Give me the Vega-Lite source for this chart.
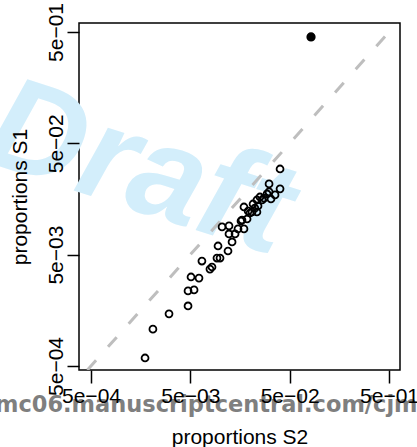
{
  "$schema": "https://vega.github.io/schema/vega-lite/v6.json",
  "width": 321,
  "height": 347,
  "autosize": "none",
  "padding": {"left": 79, "top": 23, "right": 17, "bottom": 77},
  "background": "white",
  "config": {
    "view": {"stroke": "black", "strokeWidth": 1.5},
    "font": "Liberation Sans"
  },
  "datasets": {
    "pts": [
      {"s2": 0.00175, "s1": 0.00059, "kind": "open"},
      {"s2": 0.00210, "s1": 0.00107, "kind": "open"},
      {"s2": 0.00305, "s1": 0.00147, "kind": "open"},
      {"s2": 0.00474, "s1": 0.00173, "kind": "open"},
      {"s2": 0.00474, "s1": 0.00236, "kind": "open"},
      {"s2": 0.00545, "s1": 0.00241, "kind": "open"},
      {"s2": 0.00508, "s1": 0.00315, "kind": "open"},
      {"s2": 0.00611, "s1": 0.00308, "kind": "open"},
      {"s2": 0.00654, "s1": 0.00438, "kind": "open"},
      {"s2": 0.00788, "s1": 0.00371, "kind": "open"},
      {"s2": 0.00826, "s1": 0.00387, "kind": "open"},
      {"s2": 0.00927, "s1": 0.00466, "kind": "open"},
      {"s2": 0.00995, "s1": 0.00466, "kind": "open"},
      {"s2": 0.01197, "s1": 0.00539, "kind": "open"},
      {"s2": 0.00950, "s1": 0.00598, "kind": "open"},
      {"s2": 0.01315, "s1": 0.00650, "kind": "open"},
      {"s2": 0.01043, "s1": 0.00887, "kind": "open"},
      {"s2": 0.01225, "s1": 0.00906, "kind": "open"},
      {"s2": 0.01225, "s1": 0.00767, "kind": "open"},
      {"s2": 0.01410, "s1": 0.00767, "kind": "open"},
      {"s2": 0.01510, "s1": 0.00851, "kind": "open"},
      {"s2": 0.01733, "s1": 0.00851, "kind": "open"},
      {"s2": 0.01618, "s1": 0.01002, "kind": "open"},
      {"s2": 0.01862, "s1": 0.01045, "kind": "open"},
      {"s2": 0.01656, "s1": 0.01023, "kind": "open"},
      {"s2": 0.01733, "s1": 0.01340, "kind": "open"},
      {"s2": 0.0209, "s1": 0.01208, "kind": "open"},
      {"s2": 0.0234, "s1": 0.01208, "kind": "open"},
      {"s2": 0.01995, "s1": 0.01183, "kind": "open"},
      {"s2": 0.0214, "s1": 0.01426, "kind": "open"},
      {"s2": 0.0240, "s1": 0.01368, "kind": "open"},
      {"s2": 0.0234, "s1": 0.01549, "kind": "open"},
      {"s2": 0.0264, "s1": 0.01549, "kind": "open"},
      {"s2": 0.0251, "s1": 0.01648, "kind": "open"},
      {"s2": 0.0296, "s1": 0.01754, "kind": "open"},
      {"s2": 0.0324, "s1": 0.01581, "kind": "open"},
      {"s2": 0.0310, "s1": 0.0216, "kind": "open"},
      {"s2": 0.0310, "s1": 0.0183, "kind": "open"},
      {"s2": 0.0356, "s1": 0.0172, "kind": "open"},
      {"s2": 0.0400, "s1": 0.0195, "kind": "open"},
      {"s2": 0.0400, "s1": 0.0294, "kind": "open"},
      {"s2": 0.0276, "s1": 0.0161, "kind": "open"},
      {"s2": 0.0223, "s1": 0.0131, "kind": "open"},
      {"s2": 0.0191, "s1": 0.0123, "kind": "open"},
      {"s2": 0.0820, "s1": 0.451, "kind": "filled"}
    ],
    "diag": [
      {"s2": 0.00046, "s1": 0.00046},
      {"s2": 0.602, "s1": 0.602}
    ],
    "draft": [
      {"s2": 0.0000382, "s1": 0.0354, "label": "Draft"}
    ],
    "stamp": [
      {"s2": 0.000054, "s1": 0.000193, "label": "mc06.manuscriptcentral.com/cjm"}
    ]
  },
  "encoding": {
    "x": {
      "field": "s2",
      "type": "quantitative",
      "scale": {"type": "log", "domain": [0.0003786, 0.645], "nice": false, "zero": false},
      "axis": {
        "title": "proportions S2",
        "values": [0.0005, 0.005, 0.05, 0.5],
        "labelExpr": "datum.value < 0.001 ? '5e\u221204' : datum.value < 0.01 ? '5e\u221203' : datum.value < 0.1 ? '5e\u221202' : '5e\u221201'",
        "grid": false,
        "domain": false,
        "ticks": true,
        "tickSize": 13,
        "tickColor": "black",
        "tickWidth": 1.5,
        "labelFont": "Liberation Sans",
        "labelFontSize": 21,
        "labelColor": "black",
        "labelBaseline": "alphabetic",
        "labelPadding": 19,
        "labelFlush": false,
        "labelOverlap": false,
        "titleFont": "Liberation Sans",
        "titleFontSize": 21,
        "titleFontWeight": "normal",
        "titleColor": "black",
        "titleBaseline": "alphabetic",
        "titleY": 73,
        "zindex": 1
      }
    },
    "y": {
      "field": "s1",
      "type": "quantitative",
      "scale": {"type": "log", "domain": [0.00046, 0.602], "nice": false, "zero": false},
      "axis": {
        "title": "proportions S1",
        "values": [0.0005, 0.005, 0.05, 0.5],
        "labelExpr": "datum.value < 0.001 ? '5e\u221204' : datum.value < 0.01 ? '5e\u221203' : datum.value < 0.1 ? '5e\u221202' : '5e\u221201'",
        "grid": false,
        "domain": false,
        "ticks": true,
        "tickSize": 12,
        "tickColor": "black",
        "tickWidth": 1.5,
        "labelFont": "Liberation Sans",
        "labelFontSize": 21,
        "labelColor": "black",
        "labelAngle": -90,
        "labelAlign": "center",
        "labelBaseline": "alphabetic",
        "labelPadding": 5,
        "labelFlush": false,
        "labelOverlap": false,
        "titleFont": "Liberation Sans",
        "titleFontSize": 21,
        "titleFontWeight": "normal",
        "titleColor": "black",
        "titleAngle": -90,
        "titleBaseline": "alphabetic",
        "titleX": -53,
        "titleY": 173.5,
        "zindex": 1
      }
    }
  },
  "layer": [
    {
      "data": {"name": "draft"},
      "mark": {
        "type": "text",
        "font": "Liberation Sans",
        "fontSize": 133,
        "fontWeight": "bold",
        "fontStyle": "italic",
        "angle": 18,
        "align": "left",
        "baseline": "alphabetic",
        "color": "#d3eefb",
        "clip": false
      },
      "encoding": {"text": {"field": "label"}}
    },
    {
      "data": {"name": "diag"},
      "mark": {
        "type": "line",
        "color": "#bebebe",
        "strokeWidth": 3,
        "strokeDash": [13, 18],
        "clip": true
      },
      "encoding": {}
    },
    {
      "data": {"name": "pts"},
      "transform": [{"filter": "datum.kind === 'open'"}],
      "mark": {
        "type": "point",
        "shape": "circle",
        "filled": false,
        "size": 48,
        "stroke": "black",
        "strokeWidth": 1.8,
        "opacity": 1
      }
    },
    {
      "data": {"name": "pts"},
      "transform": [{"filter": "datum.kind === 'filled'"}],
      "mark": {
        "type": "point",
        "shape": "circle",
        "filled": true,
        "size": 60,
        "color": "black",
        "stroke": "black",
        "strokeWidth": 1.5,
        "opacity": 1
      }
    },
    {
      "data": {"name": "stamp"},
      "mark": {
        "type": "text",
        "font": "DejaVu Sans",
        "fontSize": 22.5,
        "fontWeight": "bold",
        "align": "left",
        "baseline": "alphabetic",
        "color": "#7f7f7f",
        "clip": false
      },
      "encoding": {"text": {"field": "label"}}
    }
  ]
}
